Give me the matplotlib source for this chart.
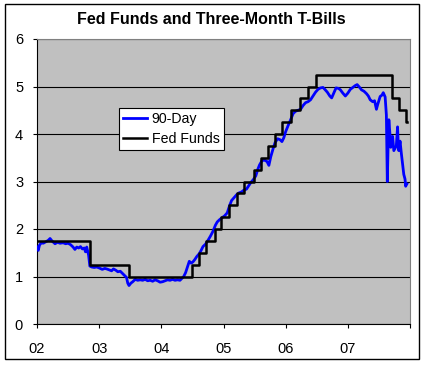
import matplotlib
matplotlib.use("Agg")
import matplotlib.pyplot as plt
from matplotlib.patches import Rectangle
import pandas as pd

plt.rcParams["font.family"] = ["Liberation Sans", "DejaVu Sans"]

# 90-day T-bill yield (decimal year, percent)
tb_year = [
    2002.00, 2002.02, 2002.04, 2002.07, 2002.10, 2002.14, 2002.18, 2002.21, 2002.24, 2002.29,
    2002.33, 2002.37, 2002.42, 2002.46, 2002.50, 2002.54, 2002.58, 2002.61, 2002.64, 2002.67,
    2002.70, 2002.73, 2002.76, 2002.78, 2002.80, 2002.83, 2002.85, 2002.88, 2002.92, 2002.96,
    2003.00, 2003.05, 2003.09, 2003.12, 2003.16, 2003.20, 2003.23, 2003.27, 2003.30, 2003.34,
    2003.37, 2003.41, 2003.44, 2003.46, 2003.48, 2003.51, 2003.54, 2003.58, 2003.62, 2003.66,
    2003.70, 2003.74, 2003.78, 2003.82, 2003.86, 2003.90, 2003.94, 2003.98, 2004.02, 2004.06,
    2004.10, 2004.14, 2004.18, 2004.22, 2004.26, 2004.30, 2004.33, 2004.36, 2004.39, 2004.42,
    2004.45, 2004.48, 2004.51, 2004.54, 2004.57, 2004.61, 2004.64, 2004.67, 2004.71, 2004.75,
    2004.79, 2004.83, 2004.87, 2004.90, 2004.94, 2004.98, 2005.02, 2005.06, 2005.10, 2005.13,
    2005.17, 2005.21, 2005.25, 2005.29, 2005.33, 2005.37, 2005.40, 2005.44, 2005.48, 2005.52,
    2005.55, 2005.58, 2005.62, 2005.66, 2005.70, 2005.73, 2005.76, 2005.80, 2005.83, 2005.87,
    2005.91, 2005.94, 2005.97, 2006.00, 2006.04, 2006.08, 2006.12, 2006.16, 2006.20, 2006.24,
    2006.28, 2006.32, 2006.36, 2006.40, 2006.44, 2006.48, 2006.52, 2006.56, 2006.60, 2006.63,
    2006.67, 2006.71, 2006.74, 2006.77, 2006.81, 2006.85, 2006.88, 2006.92, 2006.96, 2007.00,
    2007.04, 2007.08, 2007.12, 2007.15, 2007.19, 2007.22, 2007.26, 2007.30, 2007.33, 2007.36,
    2007.40, 2007.43, 2007.46, 2007.48, 2007.52, 2007.55, 2007.57, 2007.60, 2007.62, 2007.635,
    2007.65, 2007.66, 2007.68, 2007.69, 2007.71, 2007.72, 2007.74, 2007.76, 2007.78, 2007.80,
    2007.81, 2007.82, 2007.84, 2007.86, 2007.88, 2007.90, 2007.92, 2007.93, 2007.95,
]
tb_rate = [
    1.62, 1.55, 1.66, 1.71, 1.70, 1.73, 1.76, 1.80, 1.75, 1.69,
    1.72, 1.70, 1.71, 1.69, 1.70, 1.67, 1.62, 1.57, 1.62, 1.60,
    1.63, 1.58, 1.60, 1.52, 1.62, 1.45, 1.22, 1.20, 1.19, 1.20,
    1.18, 1.15, 1.17, 1.16, 1.14, 1.12, 1.16, 1.13, 1.10, 1.11,
    1.07, 1.02, 0.98, 0.86, 0.81, 0.86, 0.89, 0.94, 0.92, 0.93,
    0.92, 0.94, 0.91, 0.92, 0.90, 0.93, 0.91, 0.88, 0.89, 0.91,
    0.93, 0.92, 0.94, 0.92, 0.93, 0.92, 0.96, 1.00, 1.08, 1.20,
    1.32, 1.28, 1.31, 1.36, 1.42, 1.48, 1.55, 1.63, 1.68, 1.76,
    1.85, 1.95, 2.08, 2.15, 2.20, 2.24, 2.28, 2.34, 2.50, 2.60,
    2.66, 2.72, 2.76, 2.78, 2.82, 2.84, 2.90, 2.98, 3.04, 3.12,
    3.25, 3.35, 3.44, 3.45, 3.42, 3.34, 3.52, 3.70, 3.82, 3.90,
    3.88, 3.84, 3.92, 4.05, 4.18, 4.30, 4.43, 4.48, 4.50, 4.52,
    4.60, 4.66, 4.68, 4.72, 4.80, 4.88, 4.94, 4.97, 4.98, 4.94,
    4.88, 4.80, 4.76, 4.85, 4.97, 4.96, 4.93, 4.86, 4.80, 4.86,
    4.94, 4.98, 5.02, 5.04, 4.98, 4.93, 4.90, 4.85, 4.80, 4.72,
    4.68, 4.70, 4.52, 4.62, 4.79, 4.82, 4.87, 4.78, 4.40, 3.00,
    3.90, 4.30, 3.95, 3.72, 3.90, 3.95, 3.65, 3.70, 3.75, 4.15,
    3.80, 3.65, 3.85, 3.60, 3.38, 3.15, 3.05, 2.90, 2.95,
]

# Fed funds target changes
ff_dates = [
    "2002-01-01", "2002-11-06", "2003-06-25", "2004-06-30", "2004-08-10", "2004-09-21",
    "2004-11-10", "2004-12-14", "2005-02-02", "2005-03-22", "2005-05-03", "2005-06-30",
    "2005-08-09", "2005-09-20", "2005-11-01", "2005-12-13", "2006-01-31", "2006-03-28",
    "2006-05-10", "2006-06-29", "2007-09-18", "2007-10-31", "2007-12-11", "2007-12-14",
]
ff_rate = [
    1.75, 1.25, 1.00, 1.25, 1.50, 1.75,
    2.00, 2.25, 2.50, 2.75, 3.00, 3.25,
    3.50, 3.75, 4.00, 4.25, 4.50, 4.75,
    5.00, 5.25, 4.75, 4.50, 4.25, 4.25,
]

years = [2002, 2003, 2004, 2005, 2006, 2007, 2008]
year_labels = ["02", "03", "04", "05", "06", "07", ""]

d = pd.to_datetime(ff_dates)
ff_year = d.year + (d.dayofyear - 1) / 365.0

fig = plt.figure(figsize=(4.26, 3.65), dpi=100)
fig.patches.append(Rectangle((5 / 426, 6 / 365), 414 / 426, 355 / 365,
                             transform=fig.transFigure, fill=False,
                             edgecolor="black", linewidth=1))

ax = fig.add_axes([37 / 426, 41 / 365, 373 / 426, 285 / 365])
ax.set_facecolor("#C0C0C0")

ax.plot(tb_year, tb_rate, color="#0000FF", linewidth=2.0, label="90-Day", zorder=3)
ax.plot(ff_year, ff_rate, color="black", linewidth=1.8, drawstyle="steps-post",
        label="Fed Funds", zorder=4)

ax.set_xlim(2002, 2008)
ax.set_ylim(0, 6)
ax.set_xticks(years)
ax.set_xticklabels(year_labels)
ax.set_yticks(range(7))
ax.grid(axis="y", color="black", linewidth=0.8)
ax.set_axisbelow(True)
ax.tick_params(axis="both", direction="out", length=3, width=0.8, labelsize=10.5)
ax.tick_params(axis="x", pad=10)
ax.tick_params(axis="y", pad=7)

for side in ["top", "right"]:
    ax.spines[side].set_color("#808080")
for side in ["left", "bottom"]:
    ax.spines[side].set_color("black")

fig.text(211.5 / 426, 1 - 19 / 365, "Fed Funds and Three-Month T-Bills",
         fontsize=11.5, fontweight="bold", ha="center", va="center")

leg = ax.legend(loc="upper left", bbox_to_anchor=(0.22, 0.758), borderaxespad=0,
                fancybox=False, framealpha=1, edgecolor="black", fontsize=10.2,
                handlelength=1.7, handletextpad=0.3, borderpad=0.3, labelspacing=0.4)
leg.get_frame().set_linewidth(0.8)

fig.savefig("out.png", dpi=100)
